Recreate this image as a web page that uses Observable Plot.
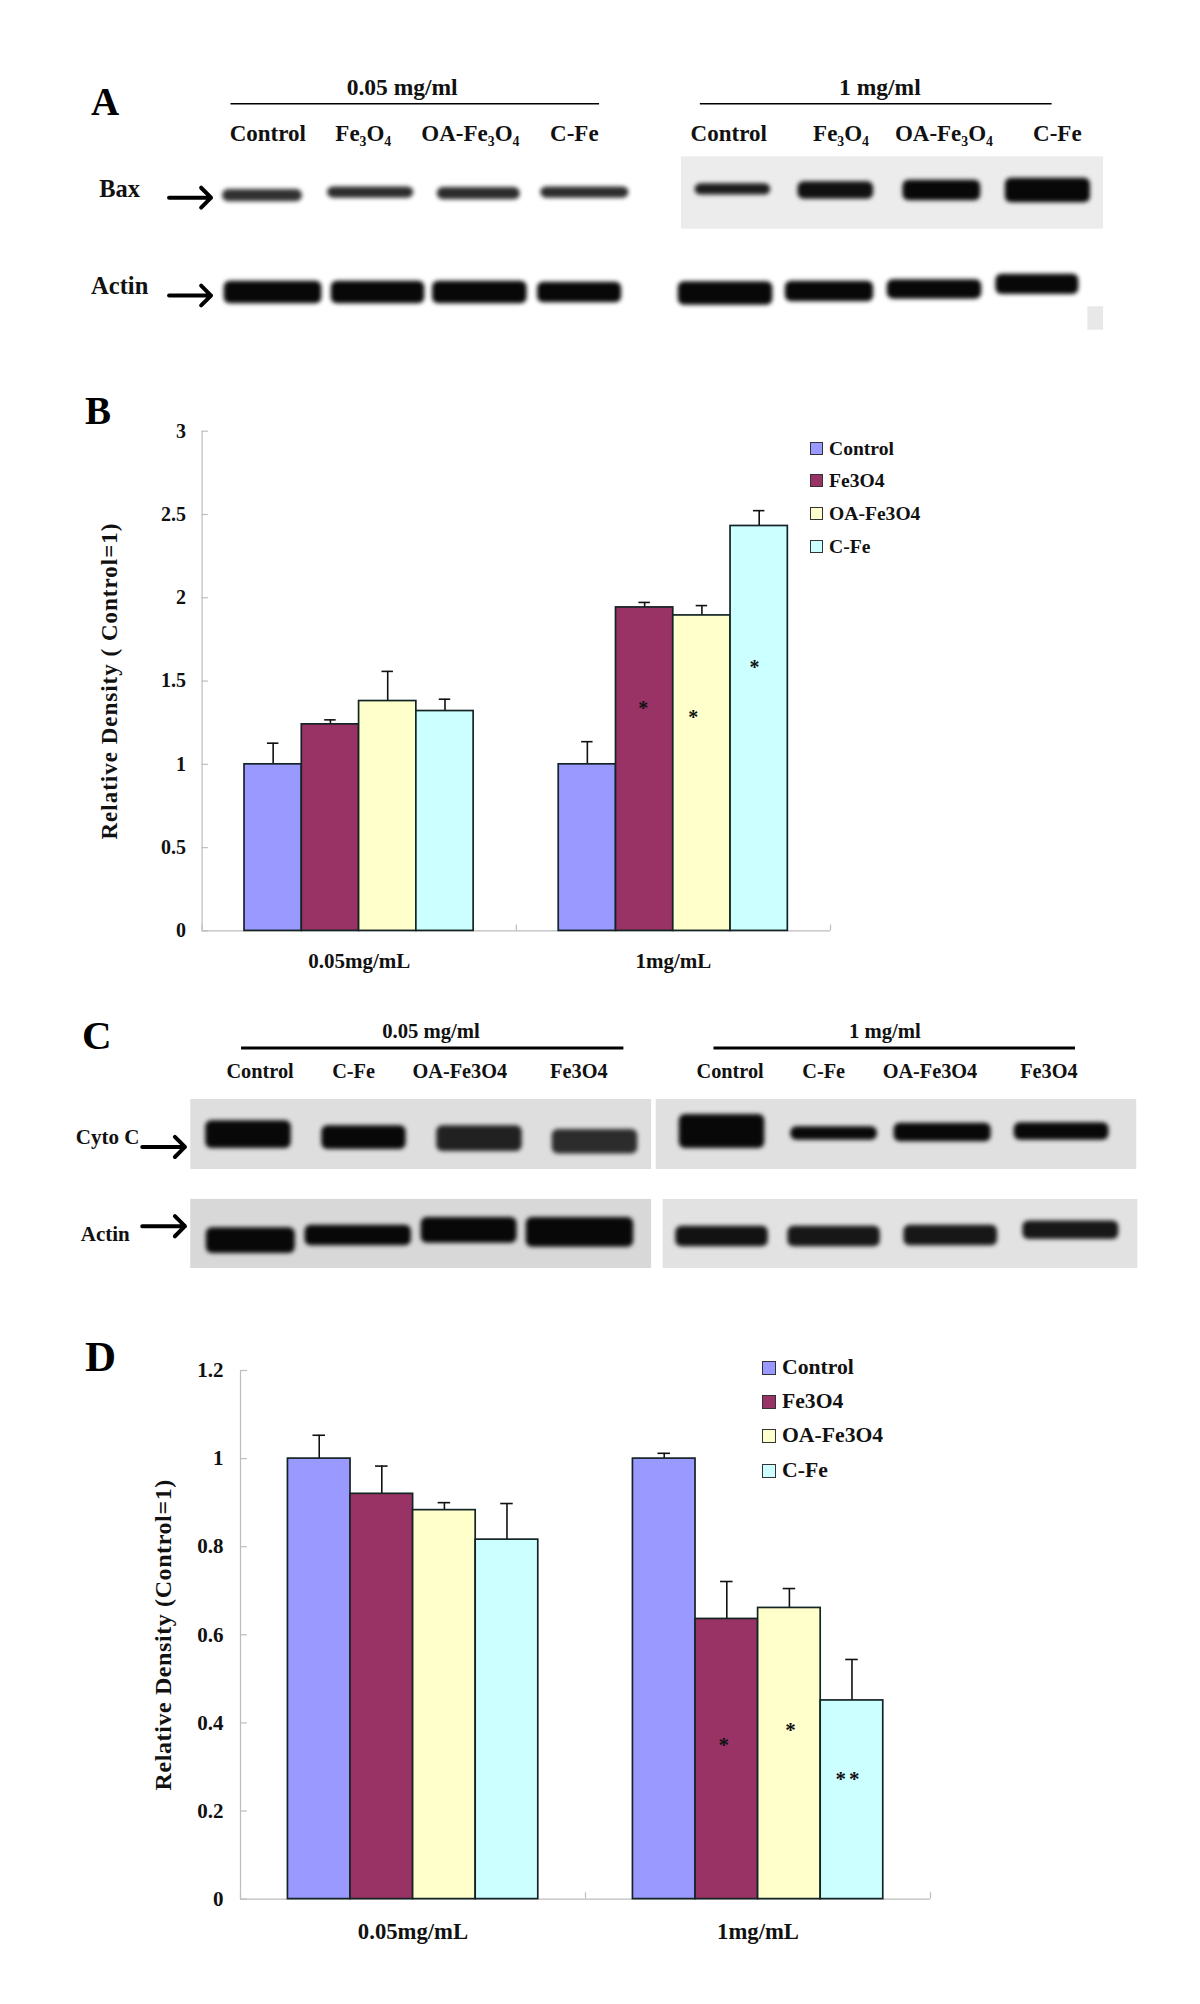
<!DOCTYPE html>
<html>
<head>
<meta charset="utf-8">
<script src="https://cdn.jsdelivr.net/npm/d3@7"></script>
<script src="https://cdn.jsdelivr.net/npm/@observablehq/plot@0.6"></script>
<style>
html,body{margin:0;padding:0;background:#fff}
#page{position:relative;width:1200px;height:2004px;overflow:hidden;font-family:"Liberation Serif",serif;font-weight:bold;color:#111}
#page svg{position:absolute;background:transparent}
.letter{position:absolute;line-height:1;color:#000}
.legend{position:absolute;white-space:nowrap}
.legend i{position:absolute;border:1.5px solid #333;box-sizing:border-box}
</style>
</head>
<body>
<div id="page"></div>
<script>
// ---------- shared categories ----------
const series = ["Control", "Fe3O4", "OA-Fe3O4", "C-Fe"];
const seriesColors = ["#9999FF", "#993366", "#FFFFCC", "#CCFFFF"];
const doses = ["0.05mg/mL", "1mg/mL"];

// ---------- panel B values ----------
const bLow = [1, 1.24, 1.38, 1.32];
const bLowTop = [1.127, 1.267, 1.558, 1.391];
const bHigh = [1, 1.942, 1.894, 2.431];
const bHighTop = [1.136, 1.972, 1.953, 2.523];
const bTicks = [0, 0.5, 1, 1.5, 2, 2.5, 3];
const bStars = [[1.404, 1.345, "*"], [1.563, 1.294, "*"], [1.758, 1.593, "*"]];

// ---------- panel D values ----------
const dLow = [1, 0.92, 0.883, 0.816];
const dLowTop = [1.053, 0.983, 0.9, 0.898];
const dHigh = [1, 0.636, 0.661, 0.451];
const dHighTop = [1.012, 0.721, 0.705, 0.544];
const dTicks = [0, 0.2, 0.4, 0.6, 0.8, 1, 1.2];
const dStars = [[1.401, 0.358, "*"], [1.594, 0.392, "*"], [1.764, 0.281, "**"]];

// ---------- panel A blot readings (lane number, relative migration, band width, band thickness, darkness) ----------
const aLaneLabels = ["Control", "Fe₃O₄", "OA-Fe₃O₄", "C-Fe", "Control", "Fe₃O₄", "OA-Fe₃O₄", "C-Fe"];
const aBaxLane = [0, 1.03, 2.06, 3.07, 4.48, 5.46, 6.47, 7.48];
const aBaxMig = [0.05, 0.02, 0.03, 0.02, -0.01, 0, 0, 0];
const aBaxWidth = [0.76, 0.82, 0.79, 0.84, 0.72, 0.72, 0.74, 0.81];
const aBaxThick = [0.12, 0.11, 0.12, 0.11, 0.11, 0.17, 0.2, 0.24];
const aBaxDark = [0.84, 0.86, 0.86, 0.86, 0.92, 0.97, 1, 1];
const aActLane = [0.1, 1.1, 2.07, 3.02, 4.41, 5.4, 6.4, 7.38];
const aActMig = [1, 1, 1, 1, 1.01, 0.99, 0.97, 0.92];
const aActWidth = [0.93, 0.89, 0.9, 0.8, 0.9, 0.84, 0.9, 0.79];
const aActThick = [0.22, 0.22, 0.22, 0.2, 0.23, 0.2, 0.19, 0.2];
const aActDark = [1, 1, 1, 1, 1, 1, 1, 1];

// ---------- panel C blot readings ----------
const cLaneLabels = ["Control", "C-Fe", "OA-Fe3O4", "Fe3O4", "Control", "C-Fe", "OA-Fe3O4", "Fe3O4"];
const cCytLane = [0, 1, 2, 3, 4.1, 5.07, 6.01, 7.04];
const cCytMig = [0.01, 0.04, 0.05, 0.08, -0.02, 0, -0.01, -0.02];
const cCytWidth = [0.74, 0.73, 0.74, 0.74, 0.74, 0.75, 0.84, 0.82];
const cCytThick = [0.27, 0.23, 0.25, 0.24, 0.33, 0.13, 0.18, 0.17];
const cCytDark = [1, 1, 0.9, 0.86, 1, 1, 1, 1];
const cActLane = [0.02, 0.95, 1.91, 2.87, 4.1, 5.07, 6.08, 7.12];
const cActMig = [1.04, 0.99, 0.94, 0.96, 1, 1, 0.99, 0.94];
const cActWidth = [0.77, 0.92, 0.83, 0.93, 0.8, 0.8, 0.81, 0.83];
const cActThick = [0.25, 0.2, 0.25, 0.29, 0.2, 0.2, 0.2, 0.18];
const cActDark = [1, 1, 1, 1, 0.96, 0.94, 0.94, 0.94];

const page = document.getElementById("page");
const fontStyle = {fontFamily: "'Liberation Serif', serif", fontWeight: "bold", background: "transparent", overflow: "visible"};

function place(node, left, top) {
  node.style.left = left + "px";
  node.style.top = top + "px";
  page.appendChild(node);
}
function letter(text, left, top, size) {
  const d = document.createElement("div");
  d.className = "letter";
  d.textContent = text;
  d.style.fontSize = size + "px";
  place(d, left, top);
}
function legend(left, tops, size, box) {
  series.forEach((s, i) => {
    const d = document.createElement("div");
    d.className = "legend";
    d.style.fontSize = size + "px";
    d.style.lineHeight = "1";
    d.style.paddingLeft = (box + 6) + "px";
    d.textContent = s;
    const sw = document.createElement("i");
    sw.style.cssText = `left:0;top:${(size - box) / 2}px;width:${box}px;height:${box}px;background:${seriesColors[i]}`;
    d.appendChild(sw);
    place(d, left, tops[i] - size / 2);
  });
}

function barChart(o) {
  const rows = [];
  [o.low, o.high].forEach((vals, g) => vals.forEach((v, i) => {
    const top = (g ? o.highTop : o.lowTop)[i];
    const x1 = g + o.pad + i * o.step;
    rows.push({series: series[i], value: v, top, x1, x2: x1 + o.step, xm: x1 + o.step / 2});
  }));
  const capHalf = o.step * 0.1;
  const stars = o.stars.map(([xm, y, t]) => ({xm, y, t}));
  const plot = Plot.plot({
    width: o.width, height: o.height,
    marginLeft: o.ml, marginRight: o.mr, marginTop: o.mt, marginBottom: o.mb,
    style: fontStyle,
    x: {domain: [0, 2], axis: null},
    y: {domain: o.domain, axis: null},
    color: {type: "ordinal", domain: series, range: seriesColors},
    marks: [
      Plot.ruleX([0], {stroke: "#bdbdbd", strokeWidth: 1.2}),
      Plot.ruleX([0, 1, 2], {y1: 0, y2: o.domain[1] * 0.012, stroke: "#bdbdbd", strokeWidth: 1.2}),
      Plot.ruleY(o.ticks, {x1: 0, x2: 0.02, stroke: "#bdbdbd", strokeWidth: 1.2}),
      Plot.ruleY([0], {stroke: "#bdbdbd", strokeWidth: 1.2}),
      Plot.ruleX(rows, {x: "xm", y1: "value", y2: "top", stroke: "#111", strokeWidth: 1.6}),
      Plot.ruleY(rows, {y: "top", x1: d => d.xm - capHalf, x2: d => d.xm + capHalf, stroke: "#111", strokeWidth: 1.6}),
      Plot.rectY(rows, {x1: "x1", x2: "x2", y: "value", fill: "series", stroke: "#142424", strokeWidth: 1.7}),
      Plot.text(stars, {x: "xm", y: "y", text: "t", fontSize: o.starSize, fill: "#111", dy: o.starDy}),
      Plot.axisY({ticks: o.ticks, tickSize: 0, tickPadding: o.tickPad, tickFormat: d => String(d), label: null, fontSize: o.tickFont, fill: "#111"}),
      Plot.axisX({ticks: [0.5, 1.5], tickSize: 0, tickPadding: o.xPad, tickFormat: d => doses[d < 1 ? 0 : 1], label: null, fontSize: o.xFont, fill: "#111"}),
      Plot.text([o.title], {frameAnchor: "left", rotate: -90, dx: o.titleDx, fontSize: o.titleSize, fill: "#111", textAnchor: "middle"})
    ]
  });
  plot.querySelectorAll("text").forEach(t => {
    if (t.textContent === o.title) t.style.letterSpacing = o.titleSpacing;
    if (t.textContent === "**") t.style.letterSpacing = "3px";
  });
  return plot;
}

function blot(o) {
  const zip = (lane, mig, w, th, dark) => lane.map((l, i) => ({x1: l - w[i] / 2, x2: l + w[i] / 2, y1: mig[i] - th[i] / 2, y2: mig[i] + th[i] / 2, dark: dark[i]}));
  const bands = zip(o.lane1, o.mig1, o.w1, o.th1, o.dark1).concat(zip(o.lane2, o.mig2, o.w2, o.th2, o.dark2));
  const shade = d => { const v = 255 * (1 - d.dark) + 8; return d3.rgb(v, v, v).formatHex(); };
  return Plot.plot({
    width: o.width, height: o.height, margin: 0,
    style: fontStyle,
    x: {domain: o.xd, range: o.xr, axis: null},
    y: {domain: [0, 1], range: o.yr, axis: null},
    marks: [
      Plot.rect(o.gels, {x1: "x1", x2: "x2", y1: "y1", y2: "y2", fill: "fill", imageFilter: "blur(0.6px)"}),
      Plot.rect(bands, {x1: "x1", x2: "x2", y1: "y1", y2: "y2", fill: shade, rx: 6, imageFilter: "blur(2.2px)"}),
      Plot.text(o.labels, {x: "x", y: o.labelY, text: "t", fontSize: o.laneFont, fill: "#111"}),
      Plot.text(o.headers, {x: "x", y: o.headerY, text: "t", fontSize: o.headFont, fill: "#111"}),
      Plot.ruleY(o.lines, {y: o.lineY, x1: "x1", x2: "x2", stroke: "#000", strokeWidth: o.lineWidth}),
      Plot.text(o.rowLabels, {x: "x", y: "y", text: "t", fontSize: o.rowFont, fill: "#111"}),
      Plot.arrow(o.arrows, {x1: "x1", x2: "x2", y1: "y", y2: "y", stroke: "#000", strokeWidth: 4, headLength: 7, headAngle: 90})
    ]
  });
}

// ---------- Panel A ----------
place(blot({
  width: 1080, height: 300, xd: [0, 1], xr: [202, 307], yr: [130, 232],
  lane1: aBaxLane, mig1: aBaxMig, w1: aBaxWidth, th1: aBaxThick, dark1: aBaxDark,
  lane2: aActLane, mig2: aActMig, w2: aActWidth, th2: aActThick, dark2: aActDark,
  gels: [
    {x1: 3.99, x2: 8.01, y1: -0.33, y2: 0.38, fill: "#ececec"},
    {x1: 7.86, x2: 8.01, y1: 1.14, y2: 1.37, fill: "#e8e8e8"}
  ],
  labels: [0.05, 0.96, 1.98, 2.97, 4.44, 5.51, 6.49, 7.57].map((x, i) => ({x, t: aLaneLabels[i]})),
  labelY: -0.56, laneFont: 23, headFont: 23.5,
  headers: [{x: 1.33, t: "0.05 mg/ml"}, {x: 5.88, t: "1 mg/ml"}], headerY: -1.01,
  lines: [{x1: -0.3, x2: 3.21}, {x1: 4.17, x2: 7.52}], lineY: -0.85, lineWidth: 1.5,
  rowLabels: [{x: -1.36, y: -0.01, t: "Bax"}, {x: -1.36, y: 0.94, t: "Actin"}], rowFont: 24.5,
  arrows: [{x1: -0.89, x2: -0.49, y: 0.07}, {x1: -0.89, x2: -0.49, y: 1.03}]
}), 60, 60);

// ---------- Panel C ----------
place(blot({
  width: 1090, height: 300, xd: [0, 1], xr: [188, 303.5], yr: [133, 236],
  lane1: cCytLane, mig1: cCytMig, w1: cCytWidth, th1: cCytThick, dark1: cCytDark,
  lane2: cActLane, mig2: cActMig, w2: cActWidth, th2: cActThick, dark2: cActDark,
  gels: [
    {x1: -0.5, x2: 3.49, y1: -0.33, y2: 0.35, fill: "#dedede"},
    {x1: 3.53, x2: 7.69, y1: -0.33, y2: 0.35, fill: "#e0e0e0"},
    {x1: -0.5, x2: 3.49, y1: 0.64, y2: 1.31, fill: "#d8d8d8"},
    {x1: 3.59, x2: 7.7, y1: 0.64, y2: 1.31, fill: "#e2e2e2"}
  ],
  labels: [0.1, 0.91, 1.83, 2.86, 4.17, 4.98, 5.9, 6.93].map((x, i) => ({x, t: cLaneLabels[i]})),
  labelY: -0.6, laneFont: 20.3, headFont: 20.7,
  headers: [{x: 1.58, t: "0.05 mg/ml"}, {x: 5.51, t: "1 mg/ml"}], headerY: -0.99,
  lines: [{x1: -0.06, x2: 3.25}, {x1: 4.03, x2: 7.16}], lineY: -0.83, lineWidth: 3,
  rowLabels: [{x: -1.22, y: 0.04, t: "Cyto C"}, {x: -1.24, y: 0.98, t: "Actin"}], rowFont: 21,
  arrows: [{x1: -0.92, x2: -0.55, y: 0.13}, {x1: -0.92, x2: -0.55, y: 0.9}]
}), 60, 1000);

// ---------- Panel B ----------
place(barChart({
  width: 880, height: 580, ml: 131.6, mr: 120, mt: 30.7, mb: 49.6,
  low: bLow, high: bHigh, lowTop: bLowTop, highTop: bHighTop,
  pad: 0.135, step: 0.1823, domain: [0, 3], ticks: bTicks, stars: bStars,
  tickPad: 16, tickFont: 20, xPad: 22, xFont: 21, starSize: 20, starDy: 2,
  title: "Relative Density ( Control=1)", titleDx: -92, titleSize: 23, titleSpacing: "1px"
}), 70, 400);
legend(810, [449, 481, 514, 547], 19.6, 13);

// ---------- Panel D ----------
place(barChart({
  width: 880, height: 640, ml: 170, mr: 20, mt: 40, mb: 71.4,
  low: dLow, high: dHigh, lowTop: dLowTop, highTop: dHighTop,
  pad: 0.1375, step: 0.1814, domain: [0, 1.2], ticks: dTicks, stars: dStars,
  tickPad: 17, tickFont: 21, xPad: 24, xFont: 22.7, starSize: 21, starDy: 4,
  title: "Relative Density (Control=1)", titleDx: -77, titleSize: 24, titleSpacing: "0.6px"
}), 70, 1330);
legend(762, [1368, 1402, 1436, 1471], 21.7, 14);

// ---------- Panel letters ----------
letter("A", 91, 82, 39);
letter("B", 85, 391, 39);
letter("C", 82, 1015, 41);
letter("D", 85, 1335, 43);
</script>
</body>
</html>
